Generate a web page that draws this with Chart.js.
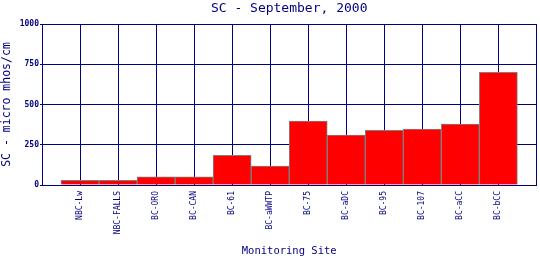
<!DOCTYPE html>
<html>
<head>
<meta charset="utf-8">
<script src="https://cdn.jsdelivr.net/npm/chart.js@4/dist/chart.umd.min.js"></script>
<style>
  html, body { margin: 0; padding: 0; background: #fff; }
  #wrap { width: 540px; height: 260px; }
</style>
</head>
<body>
<div id="wrap"><canvas id="scChart" width="540" height="260"></canvas></div>
<script>
const sites = ["NBC-Lw", "NBC-FALLS", "BC-ORO", "BC-CAN", "BC-61", "BC-aWWTP",
               "BC-75", "BC-aDC", "BC-95", "BC-107", "BC-aCC", "BC-bCC"];
const scValues = [29, 29, 50, 50, 185, 118, 397, 310, 340, 347, 378, 700];
const yTicks = [0, 250, 500, 750, 1000];

const NAVY = "#000080";
const MONO = "'DejaVu Sans Mono', 'Liberation Mono', monospace";

// bars sit on integer slots 1..12, the axis runs 0..13 so a half slot is left at each end
const points = scValues.map((v, i) => ({ x: i + 1, y: v }));

const ctx = document.getElementById("scChart").getContext("2d");

new Chart(ctx, {
  type: "bar",
  data: {
    datasets: [{
      data: points,
      xAxisID: "x",
      yAxisID: "y",
      backgroundColor: "#ff0000",
      borderColor: "#808080",
      borderWidth: 1,
      barPercentage: 1,
      categoryPercentage: 1,
    }],
  },
  options: {
    responsive: false,
    animation: false,
    events: [],
    layout: { padding: { left: 0, right: 3.6, top: 0, bottom: 0 } },
    plugins: {
      legend: { display: false },
      tooltip: { enabled: false },
    },
    scales: {
      x: {
        type: "linear",
        min: 0,
        max: sites.length + 1,
        offset: false,
        afterBuildTicks: (scale) => {
          const t = [];
          for (let i = 0; i <= sites.length + 1; i++) t.push({ value: i });
          scale.ticks = t;
        },
        afterFit: (scale) => { scale.height = 75; scale.paddingLeft = 0; scale.paddingRight = 0; },
        ticks: {
          autoSkip: false,
          minRotation: 90,
          maxRotation: 90,
          padding: 6,
          color: NAVY,
          font: { family: MONO, size: 8 },
          callback: (v) => sites[v - 1] || "",
        },
        grid: { color: NAVY, lineWidth: 1, drawTicks: false, offset: false },
        border: { color: NAVY, width: 1 },
        title: {
          display: true,
          text: "Monitoring Site",
          color: NAVY,
          font: { family: MONO, size: 10.5, lineHeight: 1.2 },
          padding: { top: 0, bottom: 2 },
        },
      },
      // top axis only carries the title so it is centred over the plot
      top: {
        type: "linear",
        position: "top",
        min: 0,
        max: 1,
        ticks: { display: false },
        grid: { display: false },
        border: { display: false },
        afterFit: (scale) => { scale.height = 24; scale.paddingLeft = 0; scale.paddingRight = 0; },
        title: {
          display: true,
          text: "SC - September, 2000",
          color: NAVY,
          font: { family: MONO, size: 13, weight: "normal", lineHeight: 1.2 },
          padding: { top: 1, bottom: 7.4 },
        },
      },
      y: {
        min: 0,
        max: 1000,
        afterBuildTicks: (scale) => { scale.ticks = yTicks.map((v) => ({ value: v })); },
        afterFit: (scale) => { scale.width = 42; },
        ticks: {
          padding: 1,
          color: NAVY,
          font: { family: MONO, size: 8, weight: "bold" },
          callback: (v) => String(v),
        },
        grid: { color: NAVY, lineWidth: 1, drawTicks: true, tickLength: 2 },
        border: { color: NAVY, width: 1 },
        title: {
          display: true,
          text: "SC - micro mhos/cm",
          color: NAVY,
          font: { family: MONO, size: 11.5, lineHeight: 1.2 },
          padding: { top: 0, bottom: 0 },
        },
      },
    },
  },
});
</script>
</body>
</html>
